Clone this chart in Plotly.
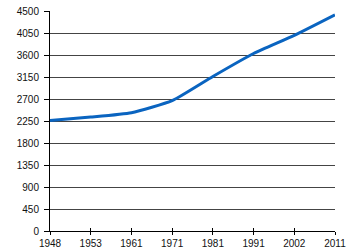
import plotly.graph_objects as go

years = ["1948", "1953", "1961", "1971", "1981", "1991", "2002", "2011"]
values = [2260, 2330, 2420, 2665, 3160, 3630, 4000, 4420]
y_ticks = [0, 450, 900, 1350, 1800, 2250, 2700, 3150, 3600, 4050, 4500]

fig = go.Figure()
fig.add_trace(go.Scatter(
    x=years, y=values, mode="lines",
    line=dict(color="#0a64c0", width=3, shape="spline", smoothing=0.5),
))
# invisible helper trace on an overlaying axis so the x ticks cross the axis line
fig.add_trace(go.Scatter(
    x=years, y=values, mode="lines", xaxis="x2",
    line=dict(width=0), hoverinfo="skip", opacity=0,
))
fig.update_layout(
    width=350, height=250,
    margin=dict(l=50, r=15, t=11, b=19),
    paper_bgcolor="white", plot_bgcolor="white",
    showlegend=False,
    font=dict(family="Liberation Sans, Arial, sans-serif", size=10, color="#111"),
    xaxis2=dict(
        type="category", range=[0, 7], overlaying="x", side="bottom",
        showgrid=False, showline=False, showticklabels=False,
        ticks="inside", ticklen=3, tickcolor="black", automargin=False,
        fixedrange=True,
    ),
)
fig.update_xaxes(
    selector=dict(anchor="y"),
)
fig.layout.xaxis.update(
    type="category", range=[0, 7],
    showgrid=False, showline=True, linecolor="black", linewidth=1,
    ticks="outside", ticklen=3, tickcolor="black",
    tickfont=dict(size=10), automargin=False, fixedrange=True,
)
fig.update_yaxes(
    range=[0, 4500], tickvals=y_ticks,
    showgrid=True, gridcolor="#444", gridwidth=1,
    showline=True, linecolor="black", linewidth=1,
    ticks="outside", ticklen=5, tickcolor="black",
    zeroline=False, tickfont=dict(size=10), automargin=False,
    ticklabelstandoff=3,
)
fig.write_html("out.html")
